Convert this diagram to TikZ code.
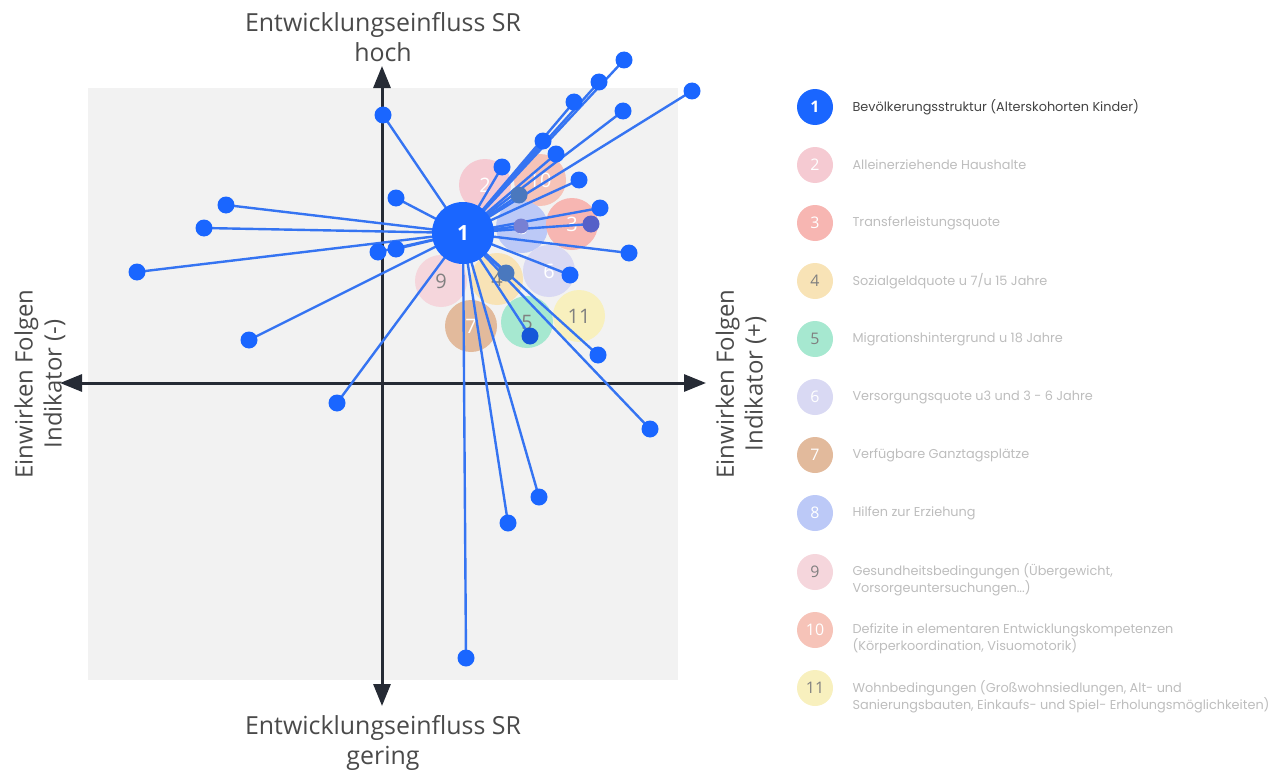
\documentclass[tikz,border=0pt]{standalone}
\usepackage{fontspec}
\setmainfont{Open Sans}
\newfontfamily\legfont{Poppins}
\usetikzlibrary{arrows.meta}
\definecolor{bggray}{HTML}{F2F2F2}
\definecolor{axiscol}{HTML}{262B35}
\definecolor{dotblue}{HTML}{1A66FF}
\definecolor{linblue}{HTML}{3574F2}
\definecolor{labgray}{HTML}{4A4A4A}
\definecolor{leggray}{HTML}{BDBDBD}
\definecolor{cpink}{HTML}{F5CAD2}
\definecolor{csalmon}{HTML}{F7B6B2}
\definecolor{cyellow}{HTML}{F8E3B6}
\definecolor{cmint}{HTML}{A6E8D0}
\definecolor{clav}{HTML}{D9D9F3}
\definecolor{ctan}{HTML}{E2BA9C}
\definecolor{clblue}{HTML}{BCC9F7}
\definecolor{cpink2}{HTML}{F5D6DC}
\definecolor{corange}{HTML}{F6C3B8}
\definecolor{clyellow}{HTML}{F8F0BE}
\definecolor{darkdotA}{HTML}{4A78BE}
\definecolor{darkdotB}{HTML}{5560C8}
\pgfdeclarelayer{bg}
\pgfdeclarelayer{lines}
\pgfsetlayers{bg,lines,main}
\tikzset{
  dotnode/.style={circle, fill=dotblue, inner sep=0pt, minimum size=17bp},
  fadenode/.style={circle, inner sep=0pt, minimum size=52bp, font=\fontsize{20}{20}\selectfont},
  legcirc/.style={circle, inner sep=0pt, minimum size=36bp, font=\fontsize{16}{16}\selectfont},
  legtext/.style={anchor=west, align=left, text=leggray, font=\legfont\fontsize{12.9}{17}\selectfont},
  conn/.style={draw=linblue, line width=2.4bp},
  axisline/.style={draw=axiscol, line width=3bp, {Triangle[length=22bp,width=17bp]}-{Triangle[length=22bp,width=17bp]}},
  axlabel/.style={text=labgray, font=\fontsize{25}{30}\selectfont, align=center}
}
\begin{document}
\begin{tikzpicture}[x=1bp,y=-1bp]
\useasboundingbox (0,0) rectangle (1268,771);
\begin{pgfonlayer}{bg}
\fill[bggray] (88,88) rectangle (678,680);
\draw[axisline] (382,66) -- (382,706);
\draw[axisline] (60,383) -- (706,383);
% faded factor circles
\node[fadenode, fill=cpink, text=white] (f2) at (485,185) {2};
\node[fadenode, fill=corange, text=white] (f10) at (540,180) {10};
\node[fadenode, fill=clblue, text=white] (f8) at (522,227) {8};
\node[fadenode, fill=csalmon, text=white] (f3) at (572,224) {3};
\node[fadenode, fill=cpink2, text=gray] (f9) at (441,281) {9};
\node[fadenode, fill=cyellow, text=gray] (f4) at (497,279) {4};
\node[fadenode, fill=clav, text=white] (f6) at (549,271) {6};
\node[fadenode, fill=ctan, text=white] (f7) at (471,326) {7};
\node[fadenode, fill=cmint, text=gray] (f5) at (527,322) {5};
\node[fadenode, fill=clyellow, text=gray] (f11) at (579,316) {11};
\end{pgfonlayer}
% axis labels
\node[axlabel] (lt) at (383,37) {Entwicklungseinfluss SR\\hoch};
\node[axlabel] (lb) at (383,743) {Entwicklungseinfluss SR\\gering};
\node[axlabel, font=\fontsize{24}{29}\selectfont, rotate=90] (ll) at (40,384) {Einwirken Folgen\\Indikator (-)};
\node[axlabel, font=\fontsize{24}{29}\selectfont, rotate=90] (lr) at (741,384) {Einwirken Folgen\\Indikator (+)};
% center node
\node[circle, fill=dotblue, inner sep=0pt, minimum size=62bp, text=white, font=\bfseries\fontsize{21}{21}\selectfont] (c) at (463,233) {1};
% endpoint dots
\node[dotnode] (d1) at (383,115) {};
\node[dotnode] (d2) at (396,198) {};
\node[dotnode] (d3) at (226,205) {};
\node[dotnode] (d4) at (204,228) {};
\node[dotnode] (d5) at (378,252) {};
\node[dotnode] (d6) at (396,249) {};
\node[dotnode] (d7) at (137,272) {};
\node[dotnode] (d8) at (249,340) {};
\node[dotnode] (d9) at (337,403) {};
\node[dotnode] (d10) at (466,658) {};
\node[dotnode] (d11) at (508,523) {};
\node[dotnode] (d12) at (539,497) {};
\node[dotnode] (d13) at (650,429) {};
\node[dotnode] (d14) at (598,355) {};
\node[dotnode, fill=dotblue!85!black] (d15) at (530,336) {};
\node[dotnode, fill=darkdotA] (d16) at (506,273) {};
\node[dotnode] (d17) at (570,275) {};
\node[dotnode] (d18) at (629,253) {};
\node[dotnode, fill=darkdotB] (d19) at (591,224) {};
\node[dotnode] (d20) at (600,208) {};
\node[dotnode] (d21) at (579,180) {};
\node[dotnode, fill=darkdotA] (d22) at (519,195) {};
\node[dotnode] (d23) at (502,167) {};
\node[dotnode] (d24) at (556,154) {};
\node[dotnode] (d25) at (543,141) {};
\node[dotnode] (d26) at (574,102) {};
\node[dotnode] (d27) at (599,82) {};
\node[dotnode] (d28) at (624,60) {};
\node[dotnode] (d29) at (623,111) {};
\node[dotnode] (d30) at (692,91) {};
\node[dotnode, fill=darkdotB!80!white, minimum size=15bp] (d31) at (521,226) {};
\begin{pgfonlayer}{lines}
\foreach \i in {1,...,31} { \draw[conn] (c.center) -- (d\i.center); }
\end{pgfonlayer}
% legend
\node[legcirc, fill=dotblue, text=white, font=\bfseries\fontsize{16}{16}\selectfont] (g1) at (815,107) {1};
\node[legtext, text=labgray!90!black] (t1) at (849,107) {Bevölkerungsstruktur (Alterskohorten Kinder)};
\node[legcirc, fill=cpink, text=white] (g2) at (815,165) {2};
\node[legtext] (t2) at (849,165) {Alleinerziehende Haushalte};
\node[legcirc, fill=csalmon, text=white] (g3) at (815,223) {3};
\node[legtext] (t3) at (849,223) {Transferleistungsquote};
\node[legcirc, fill=cyellow, text=gray] (g4) at (815,281) {4};
\node[legtext] (t4) at (849,281) {Sozialgeldquote u 7/u 15 Jahre};
\node[legcirc, fill=cmint, text=gray] (g5) at (815,339) {5};
\node[legtext] (t5) at (849,339) {Migrationshintergrund u 18 Jahre};
\node[legcirc, fill=clav, text=white] (g6) at (815,397) {6};
\node[legtext] (t6) at (849,397) {Versorgungsquote u3 und 3 - 6 Jahre};
\node[legcirc, fill=ctan, text=white] (g7) at (815,455) {7};
\node[legtext] (t7) at (849,455) {Verfügbare Ganztagsplätze};
\node[legcirc, fill=clblue, text=white] (g8) at (815,513) {8};
\node[legtext] (t8) at (849,513) {Hilfen zur Erziehung};
\node[legcirc, fill=cpink2, text=gray] (g9) at (815,572) {9};
\node[legtext] (t9) at (849,580) {Gesundheitsbedingungen (Übergewicht,\\ Vorsorgeuntersuchungen...)};
\node[legcirc, fill=corange, text=white] (g10) at (815,630) {10};
\node[legtext] (t10) at (849,638.5) {Defizite in elementaren Entwicklungskompetenzen\\(Körperkoordination, Visuomotorik)};
\node[legcirc, fill=clyellow, text=gray] (g11) at (815,688) {11};
\node[legtext] (t11) at (849,696.5) {Wohnbedingungen (Großwohnsiedlungen, Alt- und\\Sanierungsbauten, Einkaufs- und Spiel- Erholungsmöglichkeiten)};
\end{tikzpicture}
\end{document}
